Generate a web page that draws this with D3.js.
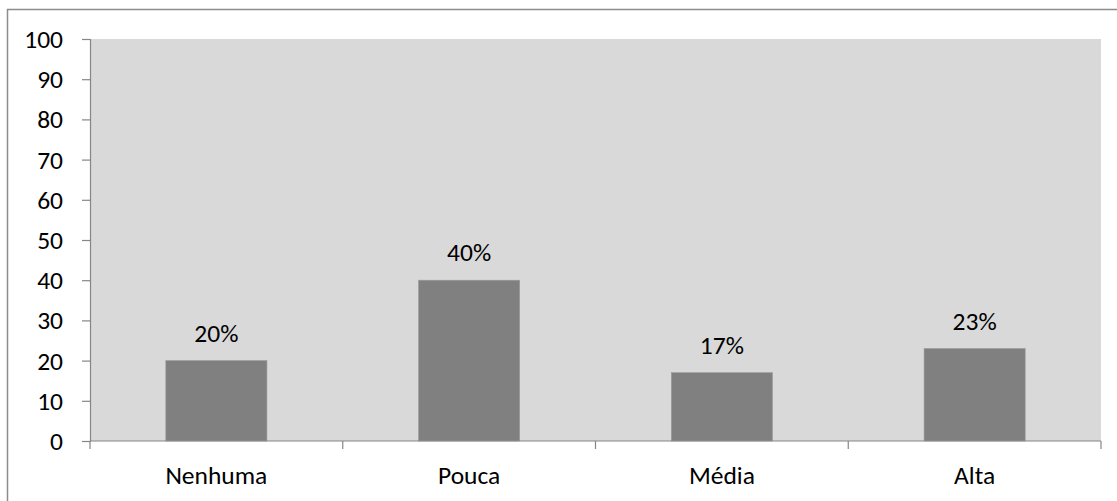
<!DOCTYPE html>
<html><head><meta charset="utf-8">
<script src="https://cdn.jsdelivr.net/npm/d3@7"></script>
<style>
html,body{margin:0;padding:0;background:#fff;}
svg{display:block;}
text{font-family:Carlito, "Open Sans", Lato, sans-serif;fill:#000;}
</style></head>
<body>
<svg id="chart" width="1117" height="501"></svg>
<script>
const categories = ["Nenhuma", "Pouca", "Média", "Alta"];
const values = [20, 40, 17, 23];
const valueLabels = ["20%", "40%", "17%", "23%"];
const yTicks = [0, 10, 20, 30, 40, 50, 60, 70, 80, 90, 100];

const svg = d3.select("#chart");
const W = 1117, H = 501;
const m = {left: 90, right: 1101, top: 39, bottom: 441};
const fs = 25.5;
const ff = "Carlito, 'Open Sans', Lato, sans-serif";

// outer chart border
svg.append("rect").attr("x", 7.5).attr("y", 9.5).attr("width", W).attr("height", H)
  .attr("fill", "none").attr("stroke", "#8c8c8c").attr("stroke-width", 1.5);

const x = d3.scaleBand().domain(categories).range([m.left, m.right]).paddingInner(0).paddingOuter(0);
const y = d3.scaleLinear().domain([0, 100]).range([m.bottom, m.top]);

// plot background
svg.append("rect").attr("x", m.left).attr("y", m.top)
  .attr("width", m.right - m.left).attr("height", m.bottom - m.top).attr("fill", "#d9d9d9");

// bars
const bw = x.bandwidth() * 0.4;
svg.selectAll("rect.bar").data(values).join("rect").attr("class", "bar")
  .attr("x", (d, i) => x(categories[i]) + x.bandwidth() / 2 - bw / 2)
  .attr("width", bw)
  .attr("y", d => y(d))
  .attr("height", d => y(0) - y(d))
  .attr("fill", "#808080").attr("stroke", "#999").attr("stroke-width", 0.6);

// value labels
svg.selectAll("text.vl").data(values).join("text").attr("class", "vl")
  .attr("x", (d, i) => x(categories[i]) + x.bandwidth() / 2)
  .attr("y", d => y(d) - 19)
  .attr("text-anchor", "middle").attr("font-size", fs)
  .text((d, i) => valueLabels[i]);

// y axis
const yAxis = d3.axisLeft(y).tickValues(yTicks).tickSize(8).tickPadding(19).tickFormat(d3.format("d"));
const gy = svg.append("g").attr("transform", `translate(${m.left},0)`).call(yAxis);
gy.select(".domain").attr("stroke", "#868686").attr("stroke-width", 1.2);
gy.selectAll(".tick line").attr("stroke", "#868686").attr("stroke-width", 1.2);
gy.selectAll(".tick text").attr("font-size", fs).attr("font-family", ff).attr("fill", "#000").attr("dy", "0.33em");

// x axis line
svg.append("line").attr("x1", m.left).attr("x2", m.right).attr("y1", y(0)).attr("y2", y(0))
  .attr("stroke", "#868686").attr("stroke-width", 1.2);
// category boundary ticks
const bounds = categories.map(c => x(c)).concat([m.right]);
svg.selectAll("line.xt").data(bounds).join("line").attr("class", "xt")
  .attr("x1", d => d).attr("x2", d => d).attr("y1", y(0)).attr("y2", y(0) + 8)
  .attr("stroke", "#868686").attr("stroke-width", 1.2);

// category labels
svg.selectAll("text.cl").data(categories).join("text").attr("class", "cl")
  .attr("x", d => x(d) + x.bandwidth() / 2)
  .attr("y", 483.5)
  .attr("text-anchor", "middle").attr("font-size", fs)
  .text(d => d);
</script>
</body></html>
